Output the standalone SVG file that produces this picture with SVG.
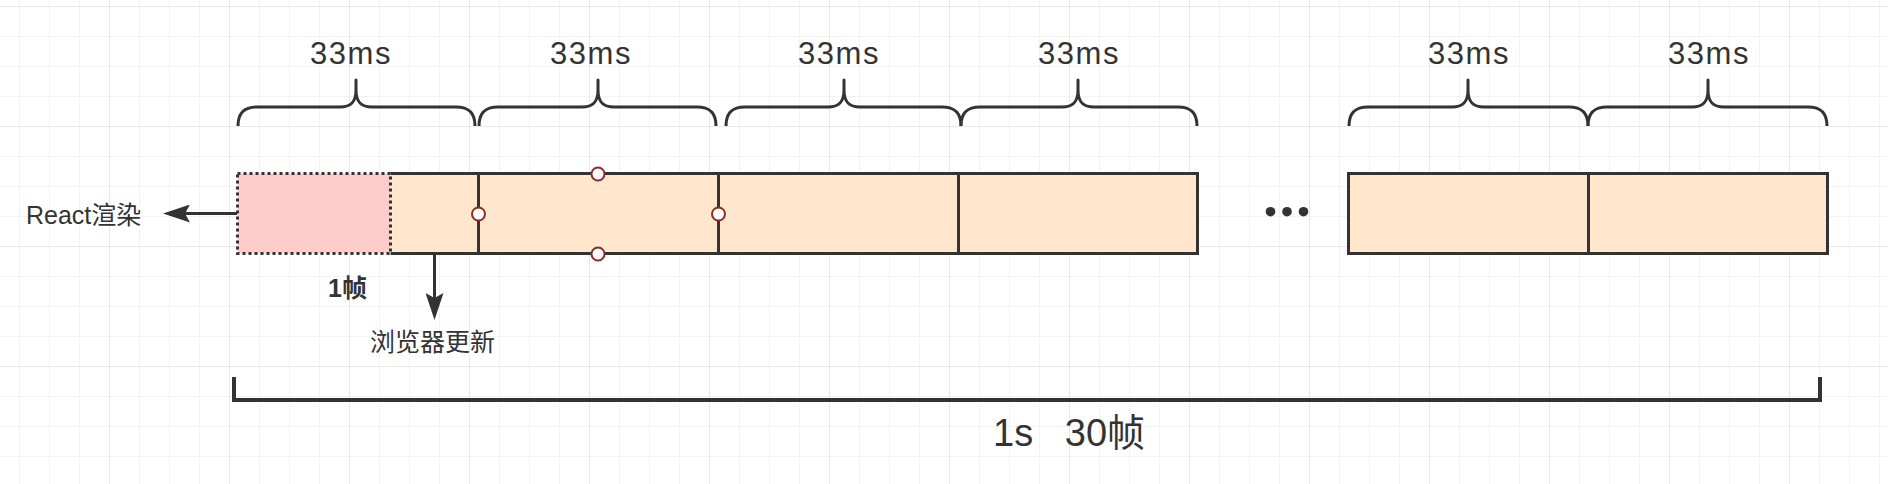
<svg xmlns="http://www.w3.org/2000/svg" width="1888" height="484" viewBox="0 0 1888 484">
  <style>
    .lbl { font-family: "Liberation Sans", "Noto Sans CJK SC", sans-serif; fill: #333333; }
    .ms { font-size: 31px; text-anchor: middle; letter-spacing: 1.5px; }
    .cn { font-size: 25px; }
    .brace { fill: none; stroke: #333333; stroke-width: 3; stroke-linecap: butt; stroke-linejoin: round; }
    .cell { fill: #ffe6cc; }
    .edge { fill: none; stroke: #333333; stroke-width: 3; }
    .conn { fill: none; stroke: #333333; stroke-width: 3; }
    .pt { fill: #ffffff; stroke: #8c2b2b; stroke-width: 2; }
  </style>
  <defs>
    <pattern id="grid" patternUnits="userSpaceOnUse" x="109" y="6" width="120" height="120">
      <path d="M30.5,0 V120 M60.5,0 V120 M90.5,0 V120 M0,30.5 H120 M0,60.5 H120 M0,90.5 H120" stroke="#f3f3f3" stroke-width="1" fill="none"/>
      <path d="M0.5,0 V120 M0,0.5 H120" stroke="#e8e8e8" stroke-width="1" fill="none"/>
    </pattern>
    <marker id="arrow" viewBox="0 0 27 18" refX="5" refY="9" markerWidth="27" markerHeight="18" markerUnits="userSpaceOnUse" orient="auto">
      <path d="M0,0 L27,9 L0,18 L5,9 Z" fill="#333333"/>
    </marker>
  </defs>

  <rect x="0" y="0" width="1888" height="484" fill="#ffffff"/>
  <rect x="0" y="0" width="1888" height="484" fill="url(#grid)"/>

  <g id="braces">
    <path class="brace" d="M238,126 C238,113 244,107 257,107 L340,107 C351,107 356,102 356,90 L356,80 L356,90 C356,102 361,107 372,107 L456,107 C469,107 475,113 475,126"/>
    <path class="brace" d="M479,126 C479,113 485,107 498,107 L582,107 C593,107 598,102 598,90 L598,80 L598,90 C598,102 603,107 614,107 L697,107 C710,107 716,113 716,126"/>
    <path class="brace" d="M726,126 C726,113 732,107 745,107 L828,107 C839,107 844,102 844,90 L844,80 L844,90 C844,102 849,107 860,107 L942,107 C955,107 961,113 961,126"/>
    <path class="brace" d="M961,126 C961,113 967,107 980,107 L1062,107 C1073,107 1078,102 1078,90 L1078,80 L1078,90 C1078,102 1083,107 1094,107 L1178,107 C1191,107 1197,113 1197,126"/>
    <path class="brace" d="M1349,126 C1349,113 1355,107 1368,107 L1452,107 C1463,107 1468,102 1468,90 L1468,80 L1468,90 C1468,102 1473,107 1484,107 L1569,107 C1582,107 1588,113 1588,126"/>
    <path class="brace" d="M1588,126 C1588,113 1594,107 1607,107 L1692,107 C1703,107 1708,102 1708,90 L1708,80 L1708,90 C1708,102 1713,107 1724,107 L1808,107 C1821,107 1827,113 1827,126"/>
  </g>

  <g id="brace-labels">
    <text class="lbl ms" x="351" y="64">33ms</text>
    <text class="lbl ms" x="591" y="64">33ms</text>
    <text class="lbl ms" x="839" y="64">33ms</text>
    <text class="lbl ms" x="1079" y="64">33ms</text>
    <text class="lbl ms" x="1469" y="64">33ms</text>
    <text class="lbl ms" x="1709" y="64">33ms</text>
  </g>

  <g id="frames-group-1">
    <rect class="cell" x="390.5" y="173.5" width="807" height="80"/>
    <path class="edge" d="M390.5,173.5 H1197.5 V253.5 H390.5 M478.5,173.5 V253.5 M718.5,173.5 V253.5 M958.5,173.5 V253.5"/>
  </g>

  <g id="react-frame">
    <rect x="237.5" y="173.5" width="153" height="80" fill="#ffcccc" stroke="#333333" stroke-width="3" stroke-dasharray="3 3"/>
  </g>

  <g id="frames-group-2">
    <rect class="cell" x="1348.5" y="173.5" width="479" height="80" stroke="#333333" stroke-width="3"/>
    <path class="edge" d="M1588.5,173.5 V253.5"/>
  </g>

  <g id="ellipsis">
    <circle cx="1270.5" cy="211.7" r="4.8" fill="#333333"/>
    <circle cx="1287" cy="211.7" r="4.8" fill="#333333"/>
    <circle cx="1303.5" cy="211.7" r="4.8" fill="#333333"/>
  </g>

  <g id="connectors">
    <path class="conn" d="M237,213.5 H185" marker-end="url(#arrow)"/>
    <path class="conn" d="M434.5,255 V298" marker-end="url(#arrow)"/>
  </g>

  <g id="handles">
    <circle class="pt" cx="598" cy="174" r="6.5"/>
    <circle class="pt" cx="598" cy="254" r="6.5"/>
    <circle class="pt" cx="478.5" cy="214" r="6.5"/>
    <circle class="pt" cx="718.5" cy="214" r="6.5"/>
  </g>

  <g id="labels">
    <text class="lbl cn" x="26" y="224">React渲染</text>
    <text class="lbl cn" x="328" y="297" font-weight="bold">1帧</text>
    <text class="lbl cn" x="370" y="351">浏览器更新</text>
  </g>

  <g id="total-bracket">
    <path d="M234,377 V400 H1820 V377" fill="none" stroke="#333333" stroke-width="4" stroke-linejoin="miter"/>
    <text class="lbl" x="993" y="446" font-size="38" xml:space="preserve">1s   30帧</text>
  </g>
</svg>
